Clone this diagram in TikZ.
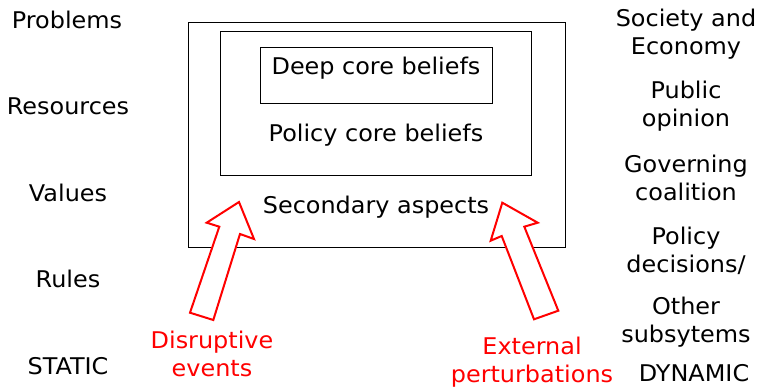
\documentclass[tikz,border=0pt]{standalone}
\usepackage{fontspec}
\setmainfont[FakeStretch=1.04]{DejaVu Sans}
\begin{document}
\begin{tikzpicture}[x=1pt,y=-1pt,
  lbl/.style={inner sep=0pt,font=\fontsize{23}{28.5}\selectfont,align=center},
  redlbl/.style={lbl,text=red},
  frame/.style={draw=black,line width=0.9pt,inner sep=0pt},
  bigarrow/.style={draw=red,line width=2pt,fill=white,line join=miter}]
\useasboundingbox (0,0) rectangle (768,388);
% boxes
\node[frame,minimum width=377pt,minimum height=225pt] (outer) at (376.5,134.5) {};
\node[frame,minimum width=311pt,minimum height=144pt] (mid) at (375.5,103) {};
\node[frame,minimum width=232pt,minimum height=56pt] (inner) at (376,75) {};
\node[lbl] (deep) at (376,68) {Deep core beliefs};
\node[lbl] (pcore) at (376,135) {Policy core beliefs};
\node[lbl] (sec) at (376,207) {Secondary aspects};
% left column
\node[lbl] (prob) at (67,20) {Problems};
\node[lbl] (res) at (68,106) {Resources};
\node[lbl] (val) at (68,193) {Values};
\node[lbl] (rul) at (68,279) {Rules};
\node[lbl] (stat) at (68,366) {STATIC};
% right column
\node[lbl] (soc) at (686,34) {Society and\\Economy};
\node[lbl] (pub) at (686,106) {Public\\opinion};
\node[lbl] (gov) at (686,178) {Governing\\coalition};
\node[lbl] (pdec) at (686,251) {Policy\\decisions/};
\node[lbl] (oth) at (686,322) {Other\\subsytems};
\node[lbl] (dyn) at (694,373) {DYNAMIC};
% red labels
\node[redlbl] (dis) at (212,354) {Disruptive\\events};
\node[redlbl] (ext) at (532,362) {External\\perturbations};
% big arrows
\draw[bigarrow] (239,202) -- (254,239) -- (240,234) -- (213.3,320) -- (190,312.7)
  -- (219.3,226.7) -- (206.7,222.7) -- cycle;
\draw[bigarrow] (502.3,202.7) -- (537.7,222.7) -- (524.3,226.7) -- (558.3,310.7)
  -- (534,319.3) -- (501.7,236) -- (490.7,240.7) -- cycle;
\end{tikzpicture}
\end{document}
